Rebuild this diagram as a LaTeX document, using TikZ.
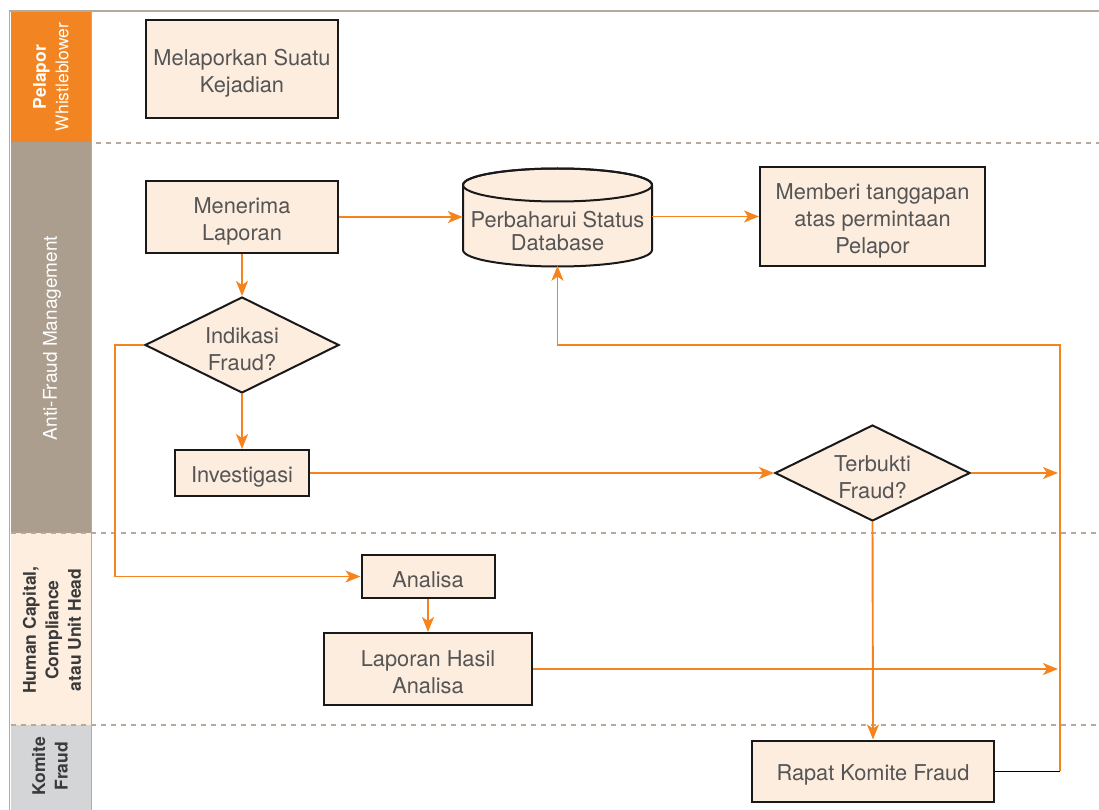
\documentclass[tikz,border=0pt]{standalone}
\usepackage{fontspec}
\setmainfont{TeX Gyre Heros}
\usetikzlibrary{shapes.geometric,arrows.meta,calc}
\definecolor{flowor}{HTML}{F5841F}
\definecolor{laneor}{HTML}{F28422}
\definecolor{lanebr}{HTML}{AC9E8E}
\definecolor{lanepe}{HTML}{FDEEE0}
\definecolor{lanegr}{HTML}{D4D5D7}
\definecolor{rule}{HTML}{B5AA9D}
\definecolor{boxfill}{HTML}{FDEDDF}
\definecolor{txt}{HTML}{555555}
\definecolor{sidetxt}{HTML}{3A3A3A}
\tikzset{
  stepbox/.style={draw=black!90, line width=2pt, fill=boxfill, inner sep=0pt},
  decision/.style={stepbox, diamond, aspect=2},
  steptext/.style={text=txt, font=\fontsize{21.8}{27}\selectfont,
    align=center, inner sep=0pt},
  flow/.style={draw=flowor, line width=1.9pt,
    -{Stealth[length=15pt,width=12pt,inset=4pt]}},
  lanesep/.style={draw=rule, line width=1.5pt, dash pattern=on 5pt off 5pt},
  lanelabel/.style={rotate=90, align=center, inner sep=0pt,
    font=\fontsize{17.5}{22.5}\selectfont\bfseries}
}
\begin{document}
\begin{tikzpicture}[x=1pt,y=-1pt]
\useasboundingbox (0,0) rectangle (1099,810);

% swimlane headers
\fill[laneor] (10.5,12) rectangle (90.5,142);
\fill[lanebr] (10.5,142) rectangle (90.5,533);
\fill[lanepe] (10.5,533) rectangle (90.5,725);
\fill[lanegr] (10.5,725) rectangle (90.5,810);
\draw[rule, line width=1.5pt] (1099,11) -- (9.5,11) -- (9.5,811);
\draw[rule, line width=1.5pt] (91.5,11) -- (91.5,811);

% lane separators
\draw[lanesep] (96,143) -- (1099,143);
\draw[lanesep] (11,533) -- (1099,533);
\draw[lanesep] (11,725) -- (1099,725);

% lane labels
\node[lanelabel, text=white] (lbl1) at (51,77)
  {Pelapor\\\mdseries Whistleblower};
\node[lanelabel, text=white, font=\fontsize{19}{23}\selectfont\mdseries]
  (lbl2) at (52,338) {Anti-Fraud Management};
\node[lanelabel, text=sidetxt] (lbl3) at (52,630)
  {Human Capital,\\Compliance\\atau Unit Head};
\node[lanelabel, text=sidetxt] (lbl4) at (50,766) {Komite\\Fraud};

% process steps (shapes)
\node[stepbox, minimum width=192pt, minimum height=98pt] (lapor) at (242,69) {};
\node[stepbox, minimum width=192pt, minimum height=71pt] (terima) at (242,217) {};
\node[stepbox, minimum width=225pt, minimum height=99pt] (beri) at (872.5,216.5) {};
\node[decision, minimum width=194pt, minimum height=96pt] (indikasi) at (242,345) {};
\node[stepbox, minimum width=134pt, minimum height=46pt] (invest) at (242,473) {};
\node[decision, minimum width=195pt, minimum height=96pt] (terbukti) at (872.5,473) {};
\node[stepbox, minimum width=133pt, minimum height=43pt] (analisa) at (428,576.5) {};
\node[stepbox, minimum width=208pt, minimum height=72pt] (hasil) at (428,669) {};
\node[stepbox, minimum width=242pt, minimum height=61pt] (rapat) at (873,771) {};

% database cylinder
\node[minimum width=189pt, minimum height=97pt, inner sep=0pt] (db) at (557.5,217) {};
\begin{scope}[shift={(db.center)}]
  \filldraw[fill=boxfill, draw=black!90, line width=2pt]
    (-94.5,-32) -- (-94.5,33)
    arc[start angle=180, end angle=0, x radius=94.5, y radius=16.5]
    -- (94.5,-32)
    arc[start angle=360, end angle=180, x radius=94.5, y radius=16.5] -- cycle;
  \draw[black!90, line width=2pt] (0,-32) ellipse[x radius=94.5, y radius=16.5];
\end{scope}

% step texts
\node[steptext] (laporT) at ($(lapor.center)+(0,4)$) {Melaporkan Suatu\\Kejadian};
\node[steptext] (terimaT) at ($(terima.center)+(0,4)$) {Menerima\\Laporan};
\node[steptext] (beriT) at ($(beri.center)+(0,4)$)
  {Memberi tanggapan\\atas permintaan\\Pelapor};
\node[steptext] (indikasiT) at ($(indikasi.center)+(0,4)$) {Indikasi\\Fraud?};
\node[steptext] (investT) at ($(invest.center)+(0,4)$) {Investigasi};
\node[steptext] (terbuktiT) at ($(terbukti.center)+(0,4)$) {Terbukti\\Fraud?};
\node[steptext] (analisaT) at ($(analisa.center)+(0,3)$) {Analisa};
\node[steptext] (hasilT) at ($(hasil.center)+(0,3)$) {Laporan Hasil\\Analisa};
\node[steptext] (rapatT) at ($(rapat.center)+(0,4)$) {Rapat Komite Fraud};
\node[steptext, font=\fontsize{21.8}{23.5}\selectfont] (dbT)
  at ($(db.center)+(0,14)$) {Perbaharui Status\\Database};

% connectors
\coordinate (tend) at (1058,473);
\coordinate (hend) at (1058,669);
\coordinate (back) at (1060,771);
\coordinate (turn) at (1060,345);

\draw[flow] (terima.east) -- (db.west |- terima.east);
\draw[flow] (db.east |- beri.west) -- (beri.west);
\draw[flow] (terima.south) -- (indikasi.north);
\draw[flow] (indikasi.south) -- (invest.north);
\draw[flow] (indikasi.west) -- ++(-29,0) |- (analisa.west);
\draw[flow] (invest.east) -- (terbukti.west);
\draw[flow] (terbukti.east) -- (tend);
\draw[flow] (terbukti.south) -- (rapat.north);
\draw[flow] (analisa.south) -- (hasil.north);
\draw[flow] (hasil.east) -- (hend);
\draw[black, line width=1pt] (rapat.east) -- (back);
\draw[flow] (back) -- (turn) -| (db.south);
\end{tikzpicture}
\end{document}
